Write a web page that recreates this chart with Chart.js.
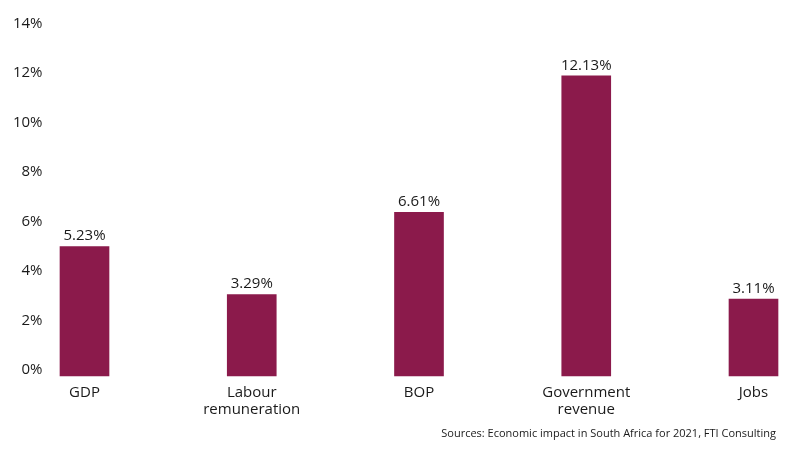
<!DOCTYPE html>
<html>
<head>
<meta charset="utf-8">
<script src="https://cdn.jsdelivr.net/npm/chart.js"></script>
<style>
  html, body { margin: 0; padding: 0; background: #ffffff; }
  #wrap { width: 801px; height: 450px; position: relative; }
</style>
</head>
<body>
<div id="wrap"><canvas id="chart"></canvas></div>
<script>
// categories and values
const categories = ['GDP', ['Labour', 'remuneration'], 'BOP', ['Government', 'revenue'], 'Jobs'];
const shares = [5.23, 3.29, 6.61, 12.13, 3.11];
const shareLabels = ['5.23%', '3.29%', '6.61%', '12.13%', '3.11%'];
const yTicks = [0, 2, 4, 6, 8, 10, 12, 14];
const sourceNote = 'Sources: Economic impact in South Africa for 2021, FTI Consulting';

const FONT = '"Open Sans", "Noto Sans", sans-serif';
const BAR_COLOR = '#8b1a4b';
const TEXT_COLOR = '#1a1a1a';

// value labels above each bar + the source line at the bottom right
const labelsPlugin = {
    id: 'labels',
    afterDatasetsDraw(chart) {
        const ctx = chart.ctx;
        const meta = chart.getDatasetMeta(0);
        ctx.save();
        ctx.fillStyle = TEXT_COLOR;
        ctx.font = `15px ${FONT}`;
        ctx.textAlign = 'center';
        ctx.textBaseline = 'bottom';
        meta.data.forEach((bar, i) => {
            ctx.fillText(shareLabels[i], bar.x, bar.y - 3);
        });
        ctx.font = `11px ${FONT}`;
        ctx.textAlign = 'right';
        ctx.textBaseline = 'middle';
        ctx.fillText(sourceNote, chart.width - 25, 434);
        ctx.restore();
    }
};

new Chart(document.getElementById('chart').getContext('2d'), {
    type: 'bar',
    data: {
        labels: categories,
        datasets: [{
            data: shares,
            backgroundColor: BAR_COLOR,
            borderWidth: 0,
            barThickness: 49,
            clip: false,
        }],
    },
    options: {
        responsive: true,
        maintainAspectRatio: false,
        animation: false,
        layout: { padding: { top: 29.5, right: 47.5, bottom: 0, left: 0 } },
        plugins: {
            legend: { display: false },
            tooltip: { enabled: false },
        },
        scales: {
            x: {
                offset: false,
                grid: { display: false, drawTicks: false },
                border: { display: false },
                ticks: {
                    color: TEXT_COLOR,
                    font: { family: FONT, size: 15, lineHeight: 1.15 },
                    padding: 8,
                    maxRotation: 0,
                    autoSkip: false,
                },
                afterFit: (scale) => {
                    scale.height = 74;
                    scale.paddingLeft = 0;
                    scale.paddingRight = 0;
                },
            },
            y: {
                min: 0,
                max: 14,
                grid: { display: false, drawTicks: false },
                border: { display: false },
                afterBuildTicks: (scale) => { scale.ticks = yTicks.map(v => ({ value: v })); },
                ticks: {
                    color: TEXT_COLOR,
                    font: { family: FONT, size: 15 },
                    padding: 42,
                    labelOffset: -6,
                    callback: (v) => `${v}%`,
                },
                afterFit: (scale) => {
                    scale.width = 84.5;
                    scale.paddingTop = 0;
                    scale.paddingBottom = 0;
                },
            },
        },
    },
    plugins: [labelsPlugin],
});
</script>
</body>
</html>
